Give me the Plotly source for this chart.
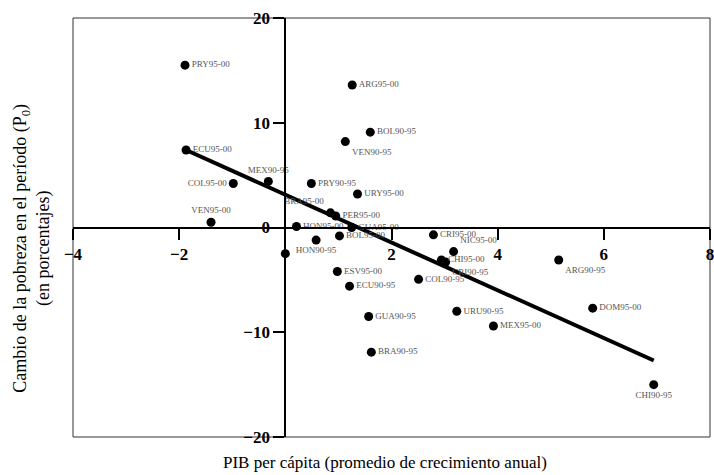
import plotly.graph_objects as go

# ---- data ----
labels = ["PRY95-00", "ARG95-00", "BOL90-95", "VEN90-95", "ECU95-00", "MEX90-95",
          "COL95-00", "PRY90-95", "URY95-00", "VEN95-00", "BRA95-00", "PER95-00",
          "HON95-00", "GUA95-00", "BOL95-00", "HON90-95", " ", "CRI95-00",
          "NIC95-00", "CHI95-00", "CRI90-95", "COL90-95", "ESV95-00", "ECU90-95",
          "GUA90-95", "BRA90-95", "URU90-95", "MEX95-00", "ARG90-95", "DOM95-00",
          "CHI90-95"]
gdp_growth = [-1.89, 1.26, 1.60, 1.13, -1.87, -0.32,
              -0.98, 0.49, 1.36, -1.40, 0.85, 0.95,
              0.21, 1.25, 1.02, 0.58, 0.00, 2.79,
              3.17, 2.94, 3.02, 2.51, 0.98, 1.21,
              1.57, 1.62, 3.23, 3.92, 5.15, 5.79,
              6.94]
poverty_change = [15.5, 13.6, 9.1, 8.2, 7.4, 4.4,
                  4.2, 4.2, 3.2, 0.5, 1.4, 1.1,
                  0.1, 0.0, -0.8, -1.2, -2.5, -0.7,
                  -2.3, -3.1, -3.3, -4.95, -4.2, -5.6,
                  -8.5, -11.9, -8.0, -9.4, -3.1, -7.7,
                  -15.0]
trend_x = [-1.87, 6.94]
trend_y = [7.4, -12.7]
x_ticks = [-4, -2, 2, 4, 6, 8]
y_ticks = [-20, -10, 0, 10, 20]

# label placement (style)
label_pos = ["middle right", "middle right", "middle right", "bottom right", "middle right", "top center",
             "middle left", "middle right", "middle right", "top center", "top left", "middle right",
             "middle right", "middle right", "middle right", "bottom center", "middle right", "middle right",
             "top right", "middle right", "bottom right", "middle right", "middle right", "middle right",
             "middle right", "middle right", "middle right", "middle right", "bottom right", "middle right",
             "bottom center"]

SERIF = "Liberation Serif"

fig = go.Figure()
fig.add_trace(go.Scatter(
    x=trend_x, y=trend_y, mode="lines",
    line=dict(color="black", width=4), showlegend=False, hoverinfo="skip"))
fig.add_trace(go.Scatter(
    x=gdp_growth, y=poverty_change, mode="markers+text",
    text=labels, textposition=label_pos,
    textfont=dict(family=SERIF, size=9, color="#555"),
    marker=dict(color="black", size=9),
    showlegend=False, cliponaxis=False))

axis_common = dict(
    showgrid=False, zeroline=False, showline=True, linewidth=2, linecolor="black",
    ticks="outside", ticklen=11, tickwidth=2, tickcolor="black",
    tickfont=dict(family=SERIF, size=17, color="black", weight="bold"),
    anchor="free", automargin=False, ticklabeloverflow="allow")

fig.update_layout(
    width=714, height=475,
    margin=dict(l=73, r=4, t=18, b=38),
    paper_bgcolor="white", plot_bgcolor="white",
    xaxis=dict(range=[-4, 8], tickvals=x_ticks, position=0.5, **axis_common),
    yaxis=dict(range=[-20, 20], tickvals=y_ticks, position=1/3, **axis_common),
    shapes=[dict(type="rect", xref="paper", yref="paper", x0=0, y0=0, x1=1, y1=1,
                 line=dict(color="#333", width=1), layer="below")],
    annotations=[
        dict(text="PIB per cápita (promedio de crecimiento anual)",
             xref="paper", yref="paper", x=(385 - 73) / 637, y=-0.06,
             xanchor="center", yanchor="middle", showarrow=False,
             font=dict(family=SERIF, size=17, color="black")),
        dict(text="Cambio de la pobreza en el período (P<sub>0</sub>)<br>(en porcentajes)",
             xref="paper", yref="paper", x=-0.064, y=0.45,
             xanchor="center", yanchor="middle", showarrow=False, textangle=-90,
             font=dict(family=SERIF, size=18, color="black")),
    ],
)

fig.write_html("out.html", config={"displayModeBar": False},
               post_script="document.body.style.margin='0';document.body.style.overflow='hidden';")
